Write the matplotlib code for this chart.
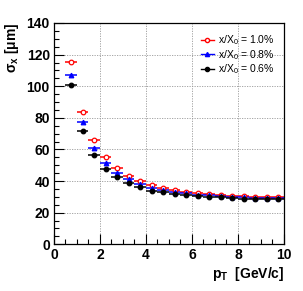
import matplotlib
matplotlib.use("Agg")
import matplotlib.pyplot as plt
from matplotlib.ticker import MultipleLocator
from matplotlib.lines import Line2D

plt.rcParams["font.family"] = ["Liberation Sans", "DejaVu Sans"]
plt.rcParams["mathtext.default"] = "regular"

# bin centres [GeV/c], bin half width 0.25
pt = [0.75, 1.25, 1.75, 2.25, 2.75, 3.25, 3.75, 4.25, 4.75, 5.25,
      5.75, 6.25, 6.75, 7.25, 7.75, 8.25, 8.75, 9.25, 9.75]
pt_err = 0.25

sigma_10 = [115.2, 83.5, 65.8, 55.3, 48.0, 43.5, 40.0, 37.2, 35.8, 34.4,
            33.3, 32.3, 31.8, 31.4, 30.8, 30.6, 30.1, 29.9, 29.7]
sigma_08 = [106.9, 77.5, 60.9, 51.6, 45.3, 41.0, 38.0, 35.8, 34.3, 33.2,
            32.3, 31.4, 30.9, 30.5, 30.0, 29.7, 29.4, 29.2, 29.0]
sigma_06 = [100.5, 71.8, 56.6, 47.9, 42.8, 38.8, 36.0, 34.0, 32.8, 32.0,
            31.4, 30.6, 30.1, 29.7, 29.3, 28.9, 28.7, 28.6, 28.5]

labels = ["x/X$_0$ = 1.0%", "x/X$_0$ = 0.8%", "x/X$_0$ = 0.6%"]
series = [sigma_10, sigma_08, sigma_06]
colors = ["#ff0000", "#0000ff", "#000000"]
markers = ["o", "^", "o"]
faces = ["white", "#0000ff", "#000000"]

fig = plt.figure(figsize=(3.03, 2.91), dpi=100)
ax = fig.add_axes([0.178, 0.1605, 0.759, 0.7605])

for vals, col, mk, fc in zip(series, colors, markers, faces):
    ax.errorbar(pt, vals, xerr=pt_err, fmt=mk, color=col, mfc=fc, mec=col,
                ms=3.3, mew=0.9, elinewidth=1.1, capsize=0)

ax.set_xlim(0, 10)
ax.set_ylim(0, 140)
ax.xaxis.set_major_locator(MultipleLocator(2))
ax.xaxis.set_minor_locator(MultipleLocator(0.5))
ax.yaxis.set_major_locator(MultipleLocator(20))
ax.yaxis.set_minor_locator(MultipleLocator(5))
ax.tick_params(which="both", direction="in", top=False, right=False, width=0.8)
ax.tick_params(which="major", length=7, labelsize=10, pad=3)
ax.tick_params(which="minor", length=3.5)
for lab in ax.get_xticklabels() + ax.get_yticklabels():
    lab.set_fontweight("bold")
ax.grid(True, which="major", color="#999999", linestyle=(0, (1.5, 1.5)), linewidth=0.6)
for sp in ax.spines.values():
    sp.set_linewidth(0.9)

ax.set_xlabel("p$_T$  [GeV/c]", fontsize=10, fontweight="bold", loc="right", labelpad=2)
ax.set_ylabel(r"$\sigma_x$ [$\mu$m]", fontsize=10, fontweight="bold", loc="top", labelpad=4)

handles = [Line2D([], [], color=c, marker=m, mfc=f, mec=c, ms=3, lw=1)
           for c, m, f in zip(colors, markers, faces)]
ax.legend(handles, labels, loc="upper right", bbox_to_anchor=(0.99, 0.985),
          frameon=False, fontsize=7.5, handlelength=1.2, handletextpad=0.4,
          labelspacing=0.05, borderpad=0.2)

fig.savefig("out.png", dpi=100)
